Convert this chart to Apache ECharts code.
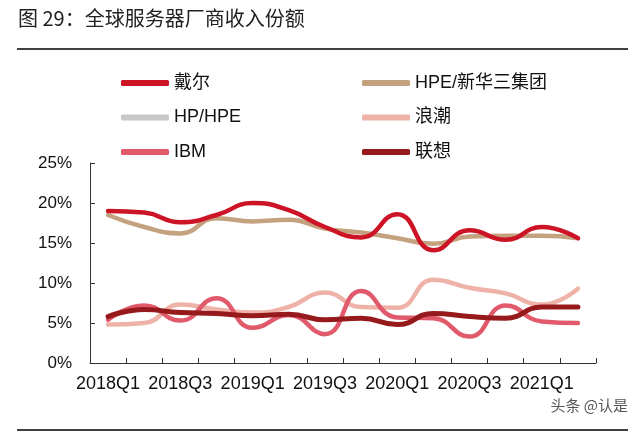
<!DOCTYPE html>
<html>
<head>
<meta charset="utf-8">
<script src="https://cdn.jsdelivr.net/npm/echarts@6/dist/echarts.min.js"></script>
<style>
html,body{margin:0;padding:0;background:#fff;}
#chart{width:640px;height:436px;}
</style>
</head>
<body>
<div id="chart"></div>
<script>
const categories = ['2018Q1','2018Q2','2018Q3','2018Q4','2019Q1','2019Q2','2019Q3','2019Q4','2020Q1','2020Q2','2020Q3','2020Q4','2021Q1','2021Q2'];
const dell   = [19.0, 18.8, 17.6, 18.5, 20.0, 19.1, 17.0, 15.7, 18.6, 14.1, 16.6, 15.4, 17.0, 15.6];
const hpeH3c = [18.5, 17.0, 16.2, 18.1, 17.7, 17.9, 16.8, 16.3, 15.6, 14.9, 15.8, 15.9, 15.9, 15.6];
const hpHpe  = [null, null, null, null, null, null, null, null, null, null, null, null, null, null];
const inspur = [4.8, 5.0, 7.3, 6.7, 6.3, 7.0, 8.8, 7.0, 6.9, 10.4, 9.4, 8.7, 7.3, 9.3];
const ibm    = [5.4, 7.2, 5.3, 8.1, 4.4, 6.0, 3.6, 9.0, 5.7, 5.6, 3.3, 7.2, 5.2, 5.0];
const lenovo = [5.8, 6.7, 6.3, 6.2, 5.9, 6.1, 5.4, 5.6, 4.8, 6.2, 5.8, 5.6, 7.0, 7.0];
const yTicks = [0, 5, 10, 15, 20, 25];

const names = ['戴尔','HPE/新华三集团','HP/HPE','浪潮','IBM','联想'];
const colors = ['#cc1426','#c4a27f','#c8c8c8','#efb2a8','#e05a6c','#961a1c'];
const datas = [dell, hpeH3c, hpHpe, inspur, ibm, lenovo];

const chart = echarts.init(document.getElementById('chart'));
const fontLatin = '"Liberation Sans", Arial, "Noto Sans CJK SC", sans-serif';

function legendCfg(data, left) {
  return {
    data: data,
    orient: 'vertical',
    left: left,
    top: 73,
    padding: 0,
    itemWidth: 48,
    itemHeight: 6,
    itemGap: 14.5,
    icon: 'roundRect',
    textStyle: {fontSize: 18, color: '#111', fontFamily: fontLatin, lineHeight: 20},
    selectedMode: false
  };
}

chart.setOption({
  animation: false,
  backgroundColor: '#fff',
  graphic: [
    {type: 'text', left: 18, top: 8, style: {text: '图 29：全球服务器厂商收入份额', fontSize: 20, fill: '#222', fontFamily: '"Noto Sans CJK SC", sans-serif'}},
    {type: 'line', shape: {x1: 17, y1: 49, x2: 628, y2: 49}, style: {stroke: '#000', lineWidth: 1.5}},
    {type: 'text', right: 12, top: 398, style: {text: '头条 @认是', fontSize: 15, fill: '#555', fontFamily: '"Noto Sans CJK SC", sans-serif'}},
    {type: 'line', shape: {x1: 17, y1: 430, x2: 628, y2: 430}, style: {stroke: '#000', lineWidth: 1.5}}
  ],
  legend: [
    legendCfg(['戴尔','HP/HPE','IBM'], 121),
    legendCfg(['HPE/新华三集团','浪潮','联想'], 362)
  ],
  grid: {left: 90, right: 44, top: 163, bottom: 73},
  xAxis: {
    type: 'category',
    data: categories,
    boundaryGap: true,
    axisLine: {lineStyle: {color: '#333', width: 1}},
    axisTick: {show: true, inside: true, length: 5, interval: 0, lineStyle: {color: '#333'}},
    axisLabel: {interval: 1, color: '#111', fontSize: 18, fontFamily: fontLatin, margin: 12}
  },
  yAxis: {
    type: 'value',
    min: 0, max: 25, interval: 5,
    axisLine: {show: true, lineStyle: {color: '#333', width: 1}},
    axisTick: {show: true, inside: true, length: 5, lineStyle: {color: '#333'}},
    splitLine: {show: false},
    axisLabel: {formatter: '{value}%', color: '#111', fontSize: 17, fontFamily: fontLatin, margin: 18}
  },
  series: names.map((n, i) => ({
    name: n,
    type: 'line',
    data: datas[i],
    smooth: true,
    showSymbol: false,
    symbol: 'none',
    color: colors[i],
    lineStyle: {width: i === 5 ? 5 : 4.5, color: colors[i], cap: 'round'},
    z: [2,1,0,3,4,5][i]
  }))
});
</script>
</body>
</html>
